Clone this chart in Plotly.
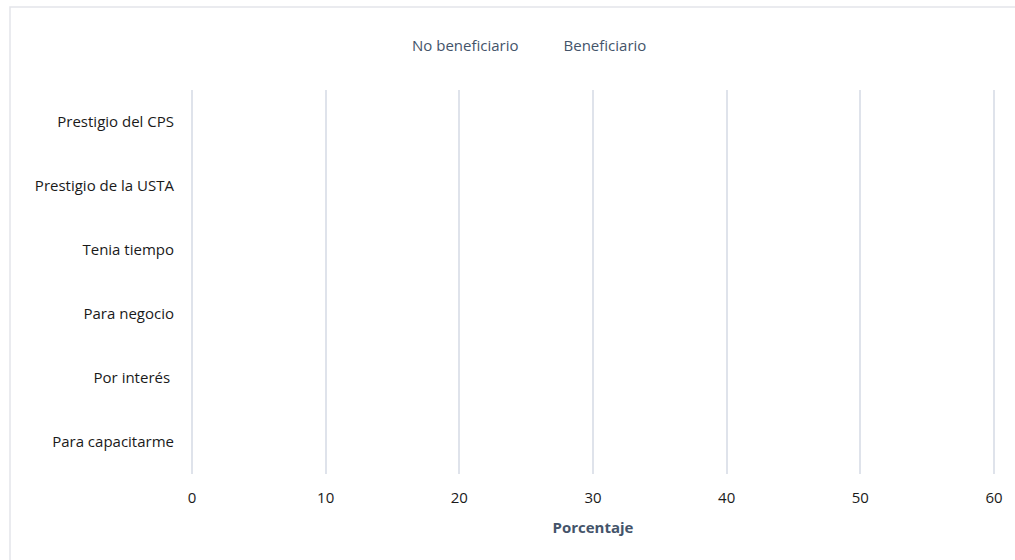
import plotly.graph_objects as go

# Reasons for enrolling, top to bottom
categorias = [
    "Prestigio del CPS",
    "Prestigio de la USTA",
    "Tenia tiempo",
    "Para negocio",
    "Por interés ",
    "Para capacitarme",
]
no_beneficiario = [None, None, None, None, None, None]
beneficiario = [None, None, None, None, None, None]
ticks_x = [0, 10, 20, 30, 40, 50, 60]

FONT = "Open Sans"
W, H = 1015, 560
L, R, T, B = 190, 19, 90, 86
pw, ph = W - L - R, H - T - B


def px(x):
    return (x - L) / pw


def py(y):
    return (H - B - y) / ph


fig = go.Figure()
for name, vals in (("No beneficiario", no_beneficiario), ("Beneficiario", beneficiario)):
    fig.add_trace(go.Bar(name=name, y=categorias, x=vals, orientation="h",
                         marker=dict(color="rgba(0,0,0,0)",
                                     line=dict(width=0, color="rgba(0,0,0,0)"))))

# light frame around the chart, running off the right and bottom edges
fig.add_shape(type="rect", xref="paper", yref="paper",
              x0=px(10), x1=px(1040), y0=py(600), y1=py(7),
              line=dict(color="#e3e5ea", width=1.5), fillcolor="rgba(0,0,0,0)",
              layer="below")

fig.update_layout(
    width=W, height=H,
    margin=dict(l=L, r=R, t=T, b=B),
    paper_bgcolor="white", plot_bgcolor="white",
    font=dict(family=FONT, size=15, color="#1a1a1a"),
    barmode="group",
    showlegend=True,
    legend=dict(orientation="h", x=px(372), xanchor="left",
                y=py(29), yanchor="top",
                font=dict(family=FONT, size=15, color="#44546a"),
                bgcolor="rgba(0,0,0,0)"),
    xaxis=dict(range=[-0.15, 60.15], tickvals=ticks_x, showgrid=True,
               gridcolor="#dfe3eb", gridwidth=2, zeroline=False,
               showline=False, ticks="outside", ticklen=10,
               tickcolor="rgba(0,0,0,0)",
               tickfont=dict(family=FONT, size=15, color="#1a1a1a"),
               title=dict(text="<b>Porcentaje</b>", standoff=16,
                          font=dict(family=FONT, size=15, color="#44546a"))),
    yaxis=dict(categoryorder="array", categoryarray=categorias,
               autorange="reversed", showgrid=False, zeroline=False,
               showline=False, ticks="outside", ticklen=12,
               tickcolor="rgba(0,0,0,0)",
               tickfont=dict(family=FONT, size=15, color="#1a1a1a")),
)

fig.write_html("out.html")
